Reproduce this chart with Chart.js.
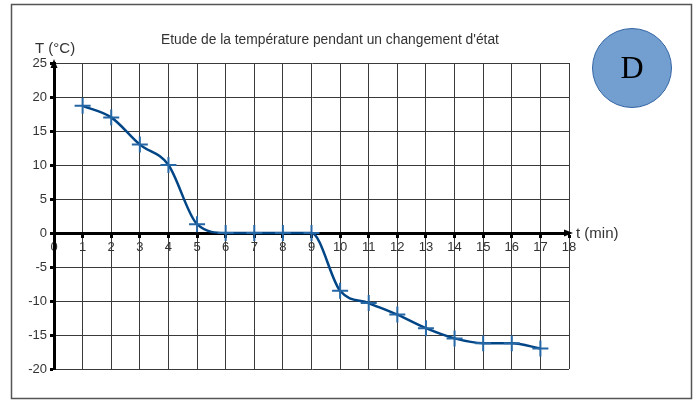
<!DOCTYPE html>
<html>
<head>
<meta charset="utf-8">
<script src="https://cdn.jsdelivr.net/npm/chart.js@4"></script>
<style>
  html, body { margin: 0; padding: 0; background: #fff; }
  #wrap { width: 699px; height: 401px; position: relative; }
</style>
</head>
<body>
<div id="wrap"><canvas id="chart" width="699" height="401"></canvas></div>
<script>
// time in minutes and measured temperature
const minutes = [1, 2, 3, 4, 5, 6, 7, 8, 9, 10, 11, 12, 13, 14, 15, 16, 17];
const temperatures = [18.7, 17, 13, 10, 1.3, 0, 0, 0, 0, -8.5, -10.3, -12, -14, -15.5, -16.2, -16.2, -17];

const xTicks = [0, 1, 2, 3, 4, 5, 6, 7, 8, 9, 10, 11, 12, 13, 14, 15, 16, 17, 18];
const yTicks = [-20, -15, -10, -5, 0, 5, 10, 15, 20, 25];

const chartTitle = "Etude de la température pendant un changement d'état";
const yAxisName = 'T (°C)';
const xAxisName = 't (min)';
const badge = 'D';

const points = minutes.map((m, i) => ({ x: m, y: temperatures[i] }));

// frame, arrows, title and the round badge
const decor = {
    id: 'decor',
    afterDraw(chart) {
        const c = chart.ctx;
        const xs = chart.scales.x, ys = chart.scales.y;
        const x0 = xs.getPixelForValue(0);
        const xEnd = xs.getPixelForValue(18);
        const y0 = ys.getPixelForValue(0);
        const yTop = ys.getPixelForValue(25);
        c.save();

        // outer frame
        c.strokeStyle = '#555';
        c.lineWidth = 1.5;
        c.strokeRect(11.5, 4.5, 680, 394);

        // arrows
        c.fillStyle = '#000';
        c.beginPath();
        c.moveTo(x0, yTop - 4);
        c.lineTo(x0 - 3.5, yTop + 5);
        c.lineTo(x0 + 3.5, yTop + 5);
        c.closePath();
        c.fill();
        c.beginPath();
        c.moveTo(xEnd + 4, y0);
        c.lineTo(xEnd - 5, y0 - 3.5);
        c.lineTo(xEnd - 5, y0 + 3.5);
        c.closePath();
        c.fill();

        // texts
        c.fillStyle = '#333';
        c.font = '13.8px "Liberation Sans", Arial, sans-serif';
        c.textAlign = 'center';
        c.textBaseline = 'middle';
        c.fillText(chartTitle, 330, 40);
        c.font = '15px "Liberation Sans", Arial, sans-serif';
        c.textAlign = 'left';
        c.fillText(yAxisName, 35, 49);
        c.fillText(xAxisName, xEnd + 7, y0 + 1);

        // badge
        c.beginPath();
        c.arc(632, 68, 39.5, 0, Math.PI * 2);
        c.fillStyle = '#729fcf';
        c.fill();
        c.strokeStyle = '#3465a4';
        c.lineWidth = 1;
        c.stroke();
        c.fillStyle = '#000';
        c.font = '32px "Liberation Serif", "DejaVu Serif", serif';
        c.textAlign = 'center';
        c.fillText(badge, 632, 70);
        c.restore();
    }
};

new Chart(document.getElementById('chart'), {
    type: 'line',
    data: {
        datasets: [{
            data: points,
            borderColor: '#004586',
            borderWidth: 2.5,
            cubicInterpolationMode: 'monotone',
            pointStyle: 'cross',
            pointRadius: 8,
            pointBorderWidth: 2,
            pointBorderColor: '#2566a5',
            pointBackgroundColor: '#2566a5',
            fill: false
        }]
    },
    options: {
        responsive: false,
        animation: false,
        layout: { padding: { left: 0, right: 130, top: 63, bottom: 32 } },
        plugins: {
            legend: { display: false },
            tooltip: { enabled: false },
            title: { display: false }
        },
        scales: {
            x: {
                type: 'linear',
                position: { y: 0 },
                min: 0,
                max: 18,
                afterBuildTicks: (s) => { s.ticks = xTicks.map(v => ({ value: v })); },
                grid: { color: '#3a3a3a', lineWidth: 1, tickColor: '#000', tickLength: 3, tickWidth: 3 },
                border: { display: true, color: '#000', width: 3 },
                ticks: {
                    color: '#333',
                    padding: 4,
                    maxRotation: 0,
                    autoSkip: false,
                    font: { family: '"Liberation Sans", Arial, sans-serif', size: 13 }
                }
            },
            y: {
                type: 'linear',
                position: 'left',
                min: -20,
                max: 25,
                afterFit: (s) => { s.width = 54; },
                afterBuildTicks: (s) => { s.ticks = yTicks.map(v => ({ value: v })); },
                grid: { color: '#3a3a3a', lineWidth: 1, tickColor: '#000', tickLength: 4, tickWidth: 3 },
                border: { display: true, color: '#000', width: 3 },
                ticks: {
                    color: '#333',
                    padding: 3,
                    font: { family: '"Liberation Sans", Arial, sans-serif', size: 13 }
                }
            }
        }
    },
    plugins: [decor]
});
</script>
</body>
</html>
